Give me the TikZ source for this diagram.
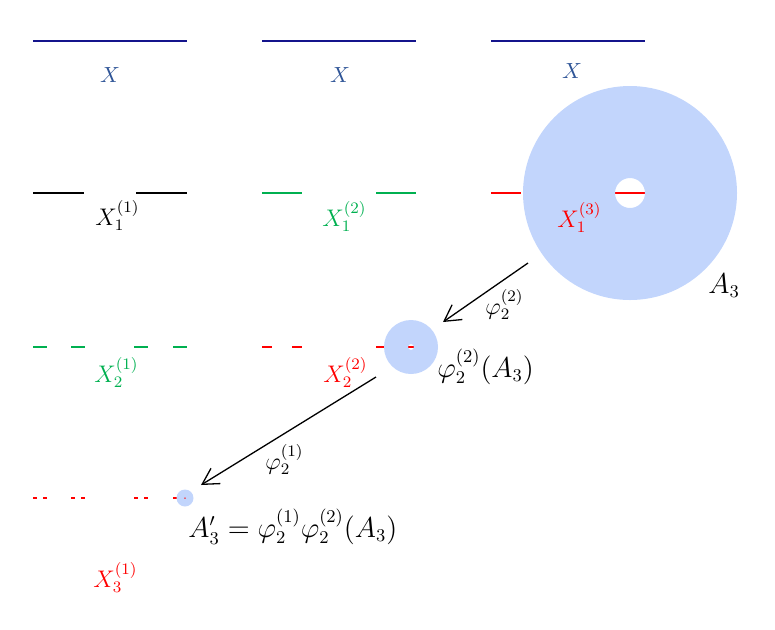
\documentclass[tikz,border=0pt]{standalone}
\usepackage{amsmath}
\usetikzlibrary{arrows.meta, positioning}
\definecolor{navy}{RGB}{20,20,140}
\definecolor{xblue}{RGB}{47,85,151}
\definecolor{cgreen}{RGB}{0,176,80}
\definecolor{cred}{RGB}{255,0,0}
\definecolor{diskblue}{RGB}{194,213,252}

\begin{document}
\begin{tikzpicture}[
    x=0.5pt, y=-0.5pt,
    seg/.style={line width=0.8pt},
    disk/.style={fill=diskblue, even odd rule},
    toplab/.style={inner sep=0pt, anchor=base, text=xblue, font=\fontsize{10.5}{12}\selectfont},
    lab/.style={inner sep=0pt, anchor=base west, font=\fontsize{11.5}{13}\selectfont},
    maplab/.style={inner sep=0pt, anchor=base west, font=\fontsize{12}{14}\selectfont},
    big/.style={inner sep=0pt, anchor=base west, font=\fontsize{13.5}{16}\selectfont},
    map/.style={-{Straight Barb[length=8pt,width=9pt]}, line width=0.65pt}
]
   \useasboundingbox (0,0) rectangle (775,629);

   % Row 0: the set X, three times
   \foreach \a in {33, 262, 491}
      \draw[seg, navy] (\a,41) -- ++(154,0);
   \node[toplab] (xa) at (110,82) {$X$};
   \node[toplab] (xb) at (340,82) {$X$};
   \node[toplab] (xc) at (572,78) {$X$};

   % Row 1: first step, three ratios
   \foreach \a/\b in {33/84, 136/187}
      \draw[seg] (\a,193) -- (\b,193);
   \foreach \a/\b in {262/302, 376/416}
      \draw[seg, cgreen] (\a,193) -- (\b,193);
   \foreach \a/\b in {491/521, 615/645}
      \draw[seg, cred] (\a,193) -- (\b,193);
   \fill[disk] (630,193) circle (107) (630,193) circle (15); % A_3
   \node[lab] (x11) at (95,225) {$X_1^{(1)}$};
   \node[lab, text=cgreen] (x12) at (322,226) {$X_1^{(2)}$};
   \node[lab, text=cred] (x13) at (557,227) {$X_1^{(3)}$};
   \node[big] (a3) at (708,293) {$A_3$};

   % Row 2: second step
   \foreach \a in {33, 71, 134, 173}
      \draw[seg, cgreen] (\a,347) -- ++(14,0);
   \foreach \a in {262, 292, 376, 406}
      \draw[seg, cred] (\a,347) -- ++(10,0);
   \fill[disk] (411,347) circle (27) (411,347) circle (3); % image of A_3
   \node[lab, text=cgreen] (x21) at (94,382) {$X_2^{(1)}$};
   \node[lab, text=cred] (x22) at (323,382) {$X_2^{(2)}$};
   \node[big] (img) at (437,377) {$\varphi_2^{(2)}(A_3)$};

   % Row 3: third step
   \foreach \a in {33, 43, 71, 81, 134, 144, 173, 183}
      \draw[seg, cred] (\a,498) -- ++(4,0);
   \fill[disk] (185,498) circle (8.5) (185,498) circle (1);
   \node[lab, text=cred] (x31) at (93,587) {$X_3^{(1)}$};
   \node[big] (imgg) at (188,537) {$A'_3=\varphi_2^{(1)}\varphi_2^{(2)}(A_3)$};

   % Maps
   \coordinate (s1) at (528,263);
   \coordinate (e1) at (443,322);
   \coordinate (s2) at (376,377);
   \coordinate (e2) at (201,485);
   \draw[map] (s1) -- (e1);
   \draw[map] (s2) -- (e2);
   \node[maplab] (phib) at (485,314) {$\varphi_2^{(2)}$};
   \node[maplab] (phia) at (265,469) {$\varphi_2^{(1)}$};
\end{tikzpicture}
\end{document}
